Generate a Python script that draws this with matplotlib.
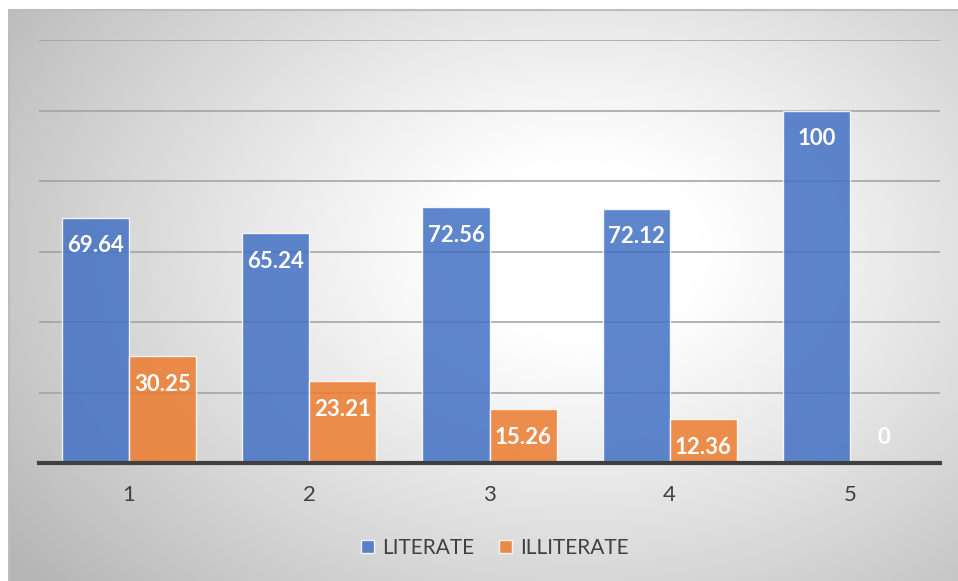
import numpy as np
import matplotlib
matplotlib.use("Agg")
import matplotlib.pyplot as plt
from matplotlib.patches import Patch

categories = ["1", "2", "3", "4", "5"]
literate = [69.64, 65.24, 72.56, 72.12, 100]
illiterate = [30.25, 23.21, 15.26, 12.36, 0]
series_names = ["LITERATE", "ILLITERATE"]
colors = ["#4472C4", "#ED7D31"]

plt.rcParams['font.family'] = ['Lato', 'DejaVu Sans']

W, H = 958, 581
fig = plt.figure(figsize=(W / 100, H / 100), dpi=100)
fig.patch.set_facecolor("white")

# chart-area background with radial gradient
x0, y0 = 9, 10
bg = fig.add_axes([x0 / W, 0, 1 - x0 / W, 1 - y0 / H], zorder=0)
gx = np.arange(x0, W)
gy = np.arange(y0, H)
XX, YY = np.meshgrid(gx, gy)
cx, cy = 580, 250
r = np.sqrt(((XX - cx) / 600.0) ** 2 + ((YY - cy) / 430.0) ** 2)
t = np.clip((r - 0.2) / 0.85, 0, 1.15)
val = 255 - 62 * t ** 1.1
img = np.dstack([val, val, val]) / 255.0
bg.imshow(img, aspect="auto", extent=[0, 1, 0, 1], origin="upper", interpolation="bilinear")
bg.set_xlim(0, 1)
bg.set_ylim(0, 1)
bg.set_xticks([])
bg.set_yticks([])
for s in ["top", "left"]:
    bg.spines[s].set_color("#bdbdbd")
    bg.spines[s].set_linewidth(1.5)
for s in ["right", "bottom"]:
    bg.spines[s].set_visible(False)

ax = fig.add_axes([39 / W, 1 - 463 / H, (940 - 39) / W, (463 - 40) / H], zorder=1)
ax.patch.set_alpha(0)

x = np.arange(len(categories))
bw = 0.372
for i, (vals, col) in enumerate(zip([literate, illiterate], colors)):
    offs = (i - 0.5) * bw
    ax.bar(x + offs, vals, width=bw, color=col, alpha=0.86,
           edgecolor=(1, 1, 1, 0.45), linewidth=1.0, zorder=3)
    for xi, v in zip(x + offs, vals):
        dy = -28 if v > 0 else 25
        ax.annotate(f"{v:g}", (xi, v), xytext=(0, dy), textcoords="offset pixels",
                    ha="center", va="center", color="white", fontsize=16,
                    fontweight="bold", zorder=5)

ax.set_ylim(0, 120)
ax.set_xlim(-0.5, len(categories) - 0.5)
ax.set_yticks(np.arange(20, 121, 20))
ax.yaxis.grid(True, color="#a0a0a0", linewidth=1.4, zorder=4, alpha=0.8)
ax.set_axisbelow(False)
ax.tick_params(axis="y", left=False, labelleft=False)
ax.set_xticks(x)
ax.set_xticklabels(categories, fontsize=16, color="#404040")
ax.tick_params(axis="x", bottom=False, pad=12)
for s in ["top", "left", "right"]:
    ax.spines[s].set_visible(False)
ax.spines["bottom"].set_color("#404040")
ax.spines["bottom"].set_linewidth(3)
ax.spines["bottom"].set_zorder(6)

handles = [Patch(facecolor=c, alpha=0.86, edgecolor=(1, 1, 1, 0.5)) for c in colors]
fig.legend(handles, series_names, loc="center", bbox_to_anchor=(495 / W, 1 - 548 / H),
           ncol=2, frameon=False, fontsize=15, labelcolor="#404040",
           handlelength=0.6, handleheight=0.6, handletextpad=0.4, columnspacing=1.2)

fig.savefig("out.png", dpi=100)
